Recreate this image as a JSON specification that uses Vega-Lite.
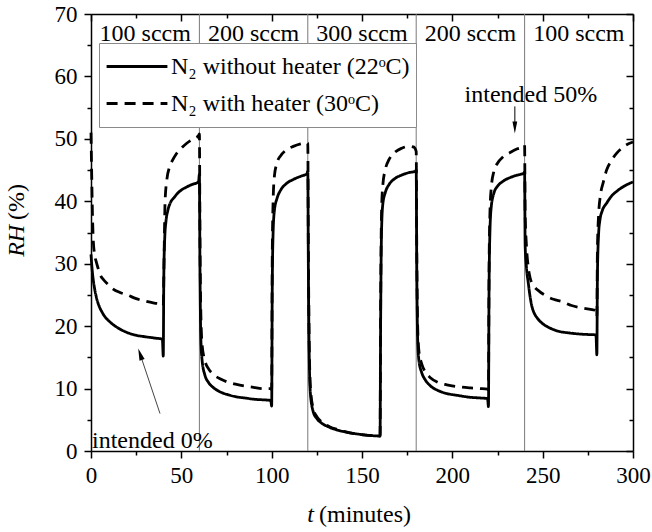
{
  "$schema": "https://vega.github.io/schema/vega-lite/v6.json",
  "width": 542,
  "height": 437,
  "autosize": {"type": "none"},
  "padding": {"left": 91, "top": 14, "right": 19, "bottom": 81},
  "background": "white",
  "data": {"values": [{}]},
  "config": {
    "font": "Liberation Serif",
    "view": {"stroke": null},
    "axis": {"labelFont": "Liberation Serif", "titleFont": "Liberation Serif"},
    "legend": {"labelFont": "Liberation Serif"},
    "text": {"font": "Liberation Serif", "fontSize": 24, "color": "black"}
  },
  "datasets": {
    "rh": [
      {"series": "N₂ without heater (22ᵒC)", "t": 0, "rh": 31.5},
      {"series": "N₂ without heater (22ᵒC)", "t": 0.5, "rh": 29.5},
      {"series": "N₂ without heater (22ᵒC)", "t": 1, "rh": 28},
      {"series": "N₂ without heater (22ᵒC)", "t": 2, "rh": 26},
      {"series": "N₂ without heater (22ᵒC)", "t": 3, "rh": 24.6},
      {"series": "N₂ without heater (22ᵒC)", "t": 4.5, "rh": 23.2},
      {"series": "N₂ without heater (22ᵒC)", "t": 6, "rh": 22.3},
      {"series": "N₂ without heater (22ᵒC)", "t": 8, "rh": 21.4},
      {"series": "N₂ without heater (22ᵒC)", "t": 10, "rh": 20.8},
      {"series": "N₂ without heater (22ᵒC)", "t": 12, "rh": 20.3},
      {"series": "N₂ without heater (22ᵒC)", "t": 15, "rh": 19.7},
      {"series": "N₂ without heater (22ᵒC)", "t": 19, "rh": 19.1},
      {"series": "N₂ without heater (22ᵒC)", "t": 24, "rh": 18.6},
      {"series": "N₂ without heater (22ᵒC)", "t": 30, "rh": 18.3},
      {"series": "N₂ without heater (22ᵒC)", "t": 35, "rh": 18.1},
      {"series": "N₂ without heater (22ᵒC)", "t": 39.5, "rh": 17.9},
      {"series": "N₂ without heater (22ᵒC)", "t": 40, "rh": 15.2},
      {"series": "N₂ without heater (22ᵒC)", "t": 40.3, "rh": 28},
      {"series": "N₂ without heater (22ᵒC)", "t": 40.8, "rh": 34},
      {"series": "N₂ without heater (22ᵒC)", "t": 41.5, "rh": 36.8},
      {"series": "N₂ without heater (22ᵒC)", "t": 42.5, "rh": 38.5},
      {"series": "N₂ without heater (22ᵒC)", "t": 44, "rh": 39.8},
      {"series": "N₂ without heater (22ᵒC)", "t": 46, "rh": 40.6},
      {"series": "N₂ without heater (22ᵒC)", "t": 48, "rh": 41.3},
      {"series": "N₂ without heater (22ᵒC)", "t": 50, "rh": 41.8},
      {"series": "N₂ without heater (22ᵒC)", "t": 53, "rh": 42.3},
      {"series": "N₂ without heater (22ᵒC)", "t": 56, "rh": 42.7},
      {"series": "N₂ without heater (22ᵒC)", "t": 59.5, "rh": 43.1},
      {"series": "N₂ without heater (22ᵒC)", "t": 60, "rh": 44.3},
      {"series": "N₂ without heater (22ᵒC)", "t": 60.3, "rh": 30},
      {"series": "N₂ without heater (22ᵒC)", "t": 60.8, "rh": 18},
      {"series": "N₂ without heater (22ᵒC)", "t": 61.5, "rh": 14.5},
      {"series": "N₂ without heater (22ᵒC)", "t": 63, "rh": 12.2},
      {"series": "N₂ without heater (22ᵒC)", "t": 65, "rh": 11.0},
      {"series": "N₂ without heater (22ᵒC)", "t": 68, "rh": 10.1},
      {"series": "N₂ without heater (22ᵒC)", "t": 72, "rh": 9.4},
      {"series": "N₂ without heater (22ᵒC)", "t": 76, "rh": 9.0},
      {"series": "N₂ without heater (22ᵒC)", "t": 80, "rh": 8.7},
      {"series": "N₂ without heater (22ᵒC)", "t": 85, "rh": 8.5},
      {"series": "N₂ without heater (22ᵒC)", "t": 90, "rh": 8.3},
      {"series": "N₂ without heater (22ᵒC)", "t": 95, "rh": 8.2},
      {"series": "N₂ without heater (22ᵒC)", "t": 99.5, "rh": 8.1},
      {"series": "N₂ without heater (22ᵒC)", "t": 100, "rh": 7.2},
      {"series": "N₂ without heater (22ᵒC)", "t": 100.3, "rh": 25},
      {"series": "N₂ without heater (22ᵒC)", "t": 100.8, "rh": 35},
      {"series": "N₂ without heater (22ᵒC)", "t": 101.5, "rh": 38.5},
      {"series": "N₂ without heater (22ᵒC)", "t": 103, "rh": 40.5},
      {"series": "N₂ without heater (22ᵒC)", "t": 105, "rh": 41.8},
      {"series": "N₂ without heater (22ᵒC)", "t": 108, "rh": 42.8},
      {"series": "N₂ without heater (22ᵒC)", "t": 112, "rh": 43.5},
      {"series": "N₂ without heater (22ᵒC)", "t": 116, "rh": 44.0},
      {"series": "N₂ without heater (22ᵒC)", "t": 119.5, "rh": 44.4},
      {"series": "N₂ without heater (22ᵒC)", "t": 120, "rh": 44.8},
      {"series": "N₂ without heater (22ᵒC)", "t": 120.3, "rh": 30},
      {"series": "N₂ without heater (22ᵒC)", "t": 120.8, "rh": 15},
      {"series": "N₂ without heater (22ᵒC)", "t": 121.5, "rh": 9},
      {"series": "N₂ without heater (22ᵒC)", "t": 123, "rh": 6.3},
      {"series": "N₂ without heater (22ᵒC)", "t": 125, "rh": 5.2},
      {"series": "N₂ without heater (22ᵒC)", "t": 128, "rh": 4.4},
      {"series": "N₂ without heater (22ᵒC)", "t": 132, "rh": 3.8},
      {"series": "N₂ without heater (22ᵒC)", "t": 137, "rh": 3.3},
      {"series": "N₂ without heater (22ᵒC)", "t": 142, "rh": 3.0},
      {"series": "N₂ without heater (22ᵒC)", "t": 148, "rh": 2.7},
      {"series": "N₂ without heater (22ᵒC)", "t": 154, "rh": 2.5},
      {"series": "N₂ without heater (22ᵒC)", "t": 159.5, "rh": 2.4},
      {"series": "N₂ without heater (22ᵒC)", "t": 160, "rh": 2.4},
      {"series": "N₂ without heater (22ᵒC)", "t": 160.3, "rh": 20},
      {"series": "N₂ without heater (22ᵒC)", "t": 160.8, "rh": 35},
      {"series": "N₂ without heater (22ᵒC)", "t": 161.5, "rh": 39.5},
      {"series": "N₂ without heater (22ᵒC)", "t": 163, "rh": 41.5},
      {"series": "N₂ without heater (22ᵒC)", "t": 165, "rh": 42.7},
      {"series": "N₂ without heater (22ᵒC)", "t": 168, "rh": 43.6},
      {"series": "N₂ without heater (22ᵒC)", "t": 172, "rh": 44.2},
      {"series": "N₂ without heater (22ᵒC)", "t": 176, "rh": 44.6},
      {"series": "N₂ without heater (22ᵒC)", "t": 179.5, "rh": 44.8},
      {"series": "N₂ without heater (22ᵒC)", "t": 180, "rh": 45},
      {"series": "N₂ without heater (22ᵒC)", "t": 180.3, "rh": 30},
      {"series": "N₂ without heater (22ᵒC)", "t": 180.8, "rh": 18},
      {"series": "N₂ without heater (22ᵒC)", "t": 181.5, "rh": 14.5},
      {"series": "N₂ without heater (22ᵒC)", "t": 183, "rh": 12.6},
      {"series": "N₂ without heater (22ᵒC)", "t": 185, "rh": 11.4},
      {"series": "N₂ without heater (22ᵒC)", "t": 188, "rh": 10.4},
      {"series": "N₂ without heater (22ᵒC)", "t": 192, "rh": 9.7},
      {"series": "N₂ without heater (22ᵒC)", "t": 197, "rh": 9.2},
      {"series": "N₂ without heater (22ᵒC)", "t": 203, "rh": 8.9},
      {"series": "N₂ without heater (22ᵒC)", "t": 210, "rh": 8.6},
      {"series": "N₂ without heater (22ᵒC)", "t": 215, "rh": 8.5},
      {"series": "N₂ without heater (22ᵒC)", "t": 219.5, "rh": 8.4},
      {"series": "N₂ without heater (22ᵒC)", "t": 220, "rh": 7.1},
      {"series": "N₂ without heater (22ᵒC)", "t": 220.3, "rh": 25},
      {"series": "N₂ without heater (22ᵒC)", "t": 220.8, "rh": 35},
      {"series": "N₂ without heater (22ᵒC)", "t": 221.5, "rh": 39},
      {"series": "N₂ without heater (22ᵒC)", "t": 223, "rh": 41.3},
      {"series": "N₂ without heater (22ᵒC)", "t": 225, "rh": 42.4},
      {"series": "N₂ without heater (22ᵒC)", "t": 228, "rh": 43.2},
      {"series": "N₂ without heater (22ᵒC)", "t": 232, "rh": 43.8},
      {"series": "N₂ without heater (22ᵒC)", "t": 236, "rh": 44.2},
      {"series": "N₂ without heater (22ᵒC)", "t": 239.5, "rh": 44.5},
      {"series": "N₂ without heater (22ᵒC)", "t": 240, "rh": 44.7},
      {"series": "N₂ without heater (22ᵒC)", "t": 240.3, "rh": 33},
      {"series": "N₂ without heater (22ᵒC)", "t": 241, "rh": 29.5},
      {"series": "N₂ without heater (22ᵒC)", "t": 242, "rh": 27},
      {"series": "N₂ without heater (22ᵒC)", "t": 243, "rh": 24.8},
      {"series": "N₂ without heater (22ᵒC)", "t": 244, "rh": 23.2},
      {"series": "N₂ without heater (22ᵒC)", "t": 245, "rh": 22.3},
      {"series": "N₂ without heater (22ᵒC)", "t": 247, "rh": 21.3},
      {"series": "N₂ without heater (22ᵒC)", "t": 250, "rh": 20.4},
      {"series": "N₂ without heater (22ᵒC)", "t": 254, "rh": 19.7},
      {"series": "N₂ without heater (22ᵒC)", "t": 260, "rh": 19.1},
      {"series": "N₂ without heater (22ᵒC)", "t": 265, "rh": 18.9},
      {"series": "N₂ without heater (22ᵒC)", "t": 272, "rh": 18.7},
      {"series": "N₂ without heater (22ᵒC)", "t": 279.5, "rh": 18.6},
      {"series": "N₂ without heater (22ᵒC)", "t": 280, "rh": 15.4},
      {"series": "N₂ without heater (22ᵒC)", "t": 280.3, "rh": 28},
      {"series": "N₂ without heater (22ᵒC)", "t": 281, "rh": 35},
      {"series": "N₂ without heater (22ᵒC)", "t": 281.7, "rh": 37},
      {"series": "N₂ without heater (22ᵒC)", "t": 283, "rh": 38.5},
      {"series": "N₂ without heater (22ᵒC)", "t": 285.4, "rh": 39.7},
      {"series": "N₂ without heater (22ᵒC)", "t": 288, "rh": 40.8},
      {"series": "N₂ without heater (22ᵒC)", "t": 291, "rh": 41.6},
      {"series": "N₂ without heater (22ᵒC)", "t": 295, "rh": 42.4},
      {"series": "N₂ without heater (22ᵒC)", "t": 300, "rh": 43.1},

      {"series": "N₂ with heater (30ᵒC)", "t": 0, "rh": 51},
      {"series": "N₂ with heater (30ᵒC)", "t": 0.4, "rh": 44},
      {"series": "N₂ with heater (30ᵒC)", "t": 0.8, "rh": 38},
      {"series": "N₂ with heater (30ᵒC)", "t": 1.3, "rh": 33.5},
      {"series": "N₂ with heater (30ᵒC)", "t": 2, "rh": 31.5},
      {"series": "N₂ with heater (30ᵒC)", "t": 3, "rh": 30.2},
      {"series": "N₂ with heater (30ᵒC)", "t": 4, "rh": 29.2},
      {"series": "N₂ with heater (30ᵒC)", "t": 5, "rh": 28.3},
      {"series": "N₂ with heater (30ᵒC)", "t": 7, "rh": 27.4},
      {"series": "N₂ with heater (30ᵒC)", "t": 9, "rh": 26.8},
      {"series": "N₂ with heater (30ᵒC)", "t": 12, "rh": 26.0},
      {"series": "N₂ with heater (30ᵒC)", "t": 16, "rh": 25.4},
      {"series": "N₂ with heater (30ᵒC)", "t": 20, "rh": 25.0},
      {"series": "N₂ with heater (30ᵒC)", "t": 25, "rh": 24.4},
      {"series": "N₂ with heater (30ᵒC)", "t": 30, "rh": 24.0},
      {"series": "N₂ with heater (30ᵒC)", "t": 35, "rh": 23.7},
      {"series": "N₂ with heater (30ᵒC)", "t": 39.5, "rh": 23.5},
      {"series": "N₂ with heater (30ᵒC)", "t": 40, "rh": 23.3},
      {"series": "N₂ with heater (30ᵒC)", "t": 40.5, "rh": 32},
      {"series": "N₂ with heater (30ᵒC)", "t": 41, "rh": 40},
      {"series": "N₂ with heater (30ᵒC)", "t": 42, "rh": 43.5},
      {"series": "N₂ with heater (30ᵒC)", "t": 43.5, "rh": 45.5},
      {"series": "N₂ with heater (30ᵒC)", "t": 45, "rh": 46.5},
      {"series": "N₂ with heater (30ᵒC)", "t": 47, "rh": 47.5},
      {"series": "N₂ with heater (30ᵒC)", "t": 50, "rh": 48.5},
      {"series": "N₂ with heater (30ᵒC)", "t": 53, "rh": 49.3},
      {"series": "N₂ with heater (30ᵒC)", "t": 56, "rh": 49.9},
      {"series": "N₂ with heater (30ᵒC)", "t": 59.5, "rh": 50.5},
      {"series": "N₂ with heater (30ᵒC)", "t": 60, "rh": 50.8},
      {"series": "N₂ with heater (30ᵒC)", "t": 60.3, "rh": 35},
      {"series": "N₂ with heater (30ᵒC)", "t": 60.8, "rh": 22},
      {"series": "N₂ with heater (30ᵒC)", "t": 61.5, "rh": 17},
      {"series": "N₂ with heater (30ᵒC)", "t": 63, "rh": 14.5},
      {"series": "N₂ with heater (30ᵒC)", "t": 65, "rh": 13.2},
      {"series": "N₂ with heater (30ᵒC)", "t": 68, "rh": 12.2},
      {"series": "N₂ with heater (30ᵒC)", "t": 72, "rh": 11.5},
      {"series": "N₂ with heater (30ᵒC)", "t": 76, "rh": 11.0},
      {"series": "N₂ with heater (30ᵒC)", "t": 80, "rh": 10.7},
      {"series": "N₂ with heater (30ᵒC)", "t": 85, "rh": 10.4},
      {"series": "N₂ with heater (30ᵒC)", "t": 90, "rh": 10.2},
      {"series": "N₂ with heater (30ᵒC)", "t": 95, "rh": 10.0},
      {"series": "N₂ with heater (30ᵒC)", "t": 99.5, "rh": 10.0},
      {"series": "N₂ with heater (30ᵒC)", "t": 100, "rh": 9.8},
      {"series": "N₂ with heater (30ᵒC)", "t": 100.3, "rh": 30},
      {"series": "N₂ with heater (30ᵒC)", "t": 100.8, "rh": 40},
      {"series": "N₂ with heater (30ᵒC)", "t": 101.5, "rh": 44},
      {"series": "N₂ with heater (30ᵒC)", "t": 103, "rh": 46.2},
      {"series": "N₂ with heater (30ᵒC)", "t": 105, "rh": 47.3},
      {"series": "N₂ with heater (30ᵒC)", "t": 108, "rh": 48.2},
      {"series": "N₂ with heater (30ᵒC)", "t": 112, "rh": 48.8},
      {"series": "N₂ with heater (30ᵒC)", "t": 116, "rh": 49.2},
      {"series": "N₂ with heater (30ᵒC)", "t": 119.5, "rh": 49.4},
      {"series": "N₂ with heater (30ᵒC)", "t": 120, "rh": 49.3},
      {"series": "N₂ with heater (30ᵒC)", "t": 120.3, "rh": 33},
      {"series": "N₂ with heater (30ᵒC)", "t": 120.8, "rh": 17},
      {"series": "N₂ with heater (30ᵒC)", "t": 121.5, "rh": 10},
      {"series": "N₂ with heater (30ᵒC)", "t": 123, "rh": 6.8},
      {"series": "N₂ with heater (30ᵒC)", "t": 125, "rh": 5.5},
      {"series": "N₂ with heater (30ᵒC)", "t": 128, "rh": 4.6},
      {"series": "N₂ with heater (30ᵒC)", "t": 132, "rh": 3.9},
      {"series": "N₂ with heater (30ᵒC)", "t": 137, "rh": 3.4},
      {"series": "N₂ with heater (30ᵒC)", "t": 142, "rh": 3.0},
      {"series": "N₂ with heater (30ᵒC)", "t": 148, "rh": 2.7},
      {"series": "N₂ with heater (30ᵒC)", "t": 154, "rh": 2.5},
      {"series": "N₂ with heater (30ᵒC)", "t": 159.5, "rh": 2.4},
      {"series": "N₂ with heater (30ᵒC)", "t": 160, "rh": 2.4},
      {"series": "N₂ with heater (30ᵒC)", "t": 160.3, "rh": 22},
      {"series": "N₂ with heater (30ᵒC)", "t": 160.8, "rh": 38},
      {"series": "N₂ with heater (30ᵒC)", "t": 161.5, "rh": 42.5},
      {"series": "N₂ with heater (30ᵒC)", "t": 163, "rh": 45.2},
      {"series": "N₂ with heater (30ᵒC)", "t": 165, "rh": 46.7},
      {"series": "N₂ with heater (30ᵒC)", "t": 168, "rh": 47.8},
      {"series": "N₂ with heater (30ᵒC)", "t": 172, "rh": 48.5},
      {"series": "N₂ with heater (30ᵒC)", "t": 176, "rh": 48.8},
      {"series": "N₂ with heater (30ᵒC)", "t": 178.5, "rh": 48.7},
      {"series": "N₂ with heater (30ᵒC)", "t": 180, "rh": 48.0},
      {"series": "N₂ with heater (30ᵒC)", "t": 180.3, "rh": 33},
      {"series": "N₂ with heater (30ᵒC)", "t": 180.8, "rh": 20},
      {"series": "N₂ with heater (30ᵒC)", "t": 181.5, "rh": 16},
      {"series": "N₂ with heater (30ᵒC)", "t": 183, "rh": 14},
      {"series": "N₂ with heater (30ᵒC)", "t": 185, "rh": 12.7},
      {"series": "N₂ with heater (30ᵒC)", "t": 188, "rh": 11.7},
      {"series": "N₂ with heater (30ᵒC)", "t": 192, "rh": 11.0},
      {"series": "N₂ with heater (30ᵒC)", "t": 197, "rh": 10.6},
      {"series": "N₂ with heater (30ᵒC)", "t": 203, "rh": 10.3},
      {"series": "N₂ with heater (30ᵒC)", "t": 210, "rh": 10.1},
      {"series": "N₂ with heater (30ᵒC)", "t": 215, "rh": 10.0},
      {"series": "N₂ with heater (30ᵒC)", "t": 219.5, "rh": 9.9},
      {"series": "N₂ with heater (30ᵒC)", "t": 220, "rh": 9.8},
      {"series": "N₂ with heater (30ᵒC)", "t": 220.3, "rh": 28},
      {"series": "N₂ with heater (30ᵒC)", "t": 220.8, "rh": 38},
      {"series": "N₂ with heater (30ᵒC)", "t": 221.5, "rh": 42},
      {"series": "N₂ with heater (30ᵒC)", "t": 223, "rh": 44.8},
      {"series": "N₂ with heater (30ᵒC)", "t": 225, "rh": 46.1},
      {"series": "N₂ with heater (30ᵒC)", "t": 228, "rh": 47.1},
      {"series": "N₂ with heater (30ᵒC)", "t": 232, "rh": 47.8},
      {"series": "N₂ with heater (30ᵒC)", "t": 236, "rh": 48.4},
      {"series": "N₂ with heater (30ᵒC)", "t": 239.5, "rh": 48.8},
      {"series": "N₂ with heater (30ᵒC)", "t": 240, "rh": 49.0},
      {"series": "N₂ with heater (30ᵒC)", "t": 240.3, "rh": 38},
      {"series": "N₂ with heater (30ᵒC)", "t": 241, "rh": 33},
      {"series": "N₂ with heater (30ᵒC)", "t": 242, "rh": 29.5},
      {"series": "N₂ with heater (30ᵒC)", "t": 243, "rh": 27.8},
      {"series": "N₂ with heater (30ᵒC)", "t": 245, "rh": 26.5},
      {"series": "N₂ with heater (30ᵒC)", "t": 248, "rh": 25.6},
      {"series": "N₂ with heater (30ᵒC)", "t": 251, "rh": 25.0},
      {"series": "N₂ with heater (30ᵒC)", "t": 256, "rh": 24.3},
      {"series": "N₂ with heater (30ᵒC)", "t": 261, "rh": 23.9},
      {"series": "N₂ with heater (30ᵒC)", "t": 266, "rh": 23.3},
      {"series": "N₂ with heater (30ᵒC)", "t": 272, "rh": 22.9},
      {"series": "N₂ with heater (30ᵒC)", "t": 279.5, "rh": 22.5},
      {"series": "N₂ with heater (30ᵒC)", "t": 280, "rh": 21.5},
      {"series": "N₂ with heater (30ᵒC)", "t": 280.3, "rh": 32},
      {"series": "N₂ with heater (30ᵒC)", "t": 281, "rh": 38},
      {"series": "N₂ with heater (30ᵒC)", "t": 282, "rh": 41},
      {"series": "N₂ with heater (30ᵒC)", "t": 283.5, "rh": 43},
      {"series": "N₂ with heater (30ᵒC)", "t": 285.4, "rh": 45},
      {"series": "N₂ with heater (30ᵒC)", "t": 288, "rh": 46.5},
      {"series": "N₂ with heater (30ᵒC)", "t": 291, "rh": 47.7},
      {"series": "N₂ with heater (30ᵒC)", "t": 295, "rh": 48.8},
      {"series": "N₂ with heater (30ᵒC)", "t": 300, "rh": 49.5}
    ],
    "switches": [{"t": 60}, {"t": 120}, {"t": 180}, {"t": 240}],
    "flows": [
      {"t": 30, "flow": "100 sccm"},
      {"t": 90, "flow": "200 sccm"},
      {"t": 150, "flow": "300 sccm"},
      {"t": 210, "flow": "200 sccm"},
      {"t": 270, "flow": "100 sccm"}
    ]
  },
  "resolve": {"axis": {"x": "independent", "y": "independent"}},
  "layer": [
    {
      "data": {"name": "switches"},
      "mark": {"type": "rule", "color": "#7a7a7a", "strokeWidth": 1},
      "encoding": {
        "x": {"field": "t", "type": "quantitative", "scale": {"domain": [0, 300], "nice": false, "zero": false}, "axis": null}
      }
    },
    {
      "data": {"name": "rh"},
      "mark": {"type": "line", "color": "black", "strokeWidth": 2.8, "interpolate": "monotone"},
      "encoding": {
        "x": {
          "field": "t", "type": "quantitative",
          "scale": {"domain": [0, 300], "nice": false, "zero": false},
          "axis": {
            "orient": "bottom", "title": null, "grid": false,
            "values": [0, 25, 50, 75, 100, 125, 150, 175, 200, 225, 250, 275, 300],
            "labelExpr": "datum.value % 50 === 0 ? datum.label : ''",
            "labelFont": "Liberation Serif", "labelFontSize": 23, "labelColor": "black",
            "labelPadding": 6, "labelFlush": false, "labelOverlap": false,
            "domainColor": "black", "domainWidth": 1.5,
            "tickColor": "black", "tickWidth": 1.5,
            "tickSize": {"condition": {"test": "datum.value % 50 === 0", "value": 7}, "value": 4}
          }
        },
        "y": {
          "field": "rh", "type": "quantitative",
          "scale": {"domain": [0, 70], "nice": false, "zero": false},
          "axis": {
            "orient": "left", "title": null, "grid": false,
            "values": [0, 5, 10, 15, 20, 25, 30, 35, 40, 45, 50, 55, 60, 65, 70],
            "labelExpr": "datum.value % 10 === 0 ? datum.label : ''",
            "labelFont": "Liberation Serif", "labelFontSize": 23, "labelColor": "black",
            "labelPadding": 7, "labelFlush": false, "labelOverlap": false,
            "domainColor": "black", "domainWidth": 1.5,
            "tickColor": "black", "tickWidth": 1.5,
            "tickSize": {"condition": {"test": "datum.value % 10 === 0", "value": 7}, "value": 4}
          }
        },
        "strokeDash": {
          "field": "series", "type": "nominal",
          "scale": {"domain": ["N₂ without heater (22ᵒC)", "N₂ with heater (30ᵒC)"], "range": [[1, 0], [11, 7]]},
          "legend": {
            "orient": "none", "legendX": 8, "legendY": 29, "title": null,
            "fillColor": "white", "strokeColor": "#8a8a8a", "padding": 6,
            "clipHeight": 35, "rowPadding": 2,
            "symbolType": "stroke", "symbolSize": 3700, "symbolStrokeColor": "black", "symbolStrokeWidth": 2.8,
            "labelFont": "Liberation Serif", "labelFontSize": 24, "labelColor": "black", "labelOffset": 2, "labelLimit": 400
          }
        }
      }
    },
    {
      "data": {"name": "flows"},
      "mark": {"type": "text", "baseline": "alphabetic", "align": "center", "font": "Liberation Serif", "fontSize": 24},
      "encoding": {
        "x": {
          "field": "t", "type": "quantitative",
          "scale": {"domain": [0, 300], "nice": false, "zero": false},
          "axis": {
            "orient": "top", "title": null, "grid": false, "labels": false,
            "values": [0, 25, 50, 75, 100, 125, 150, 175, 200, 225, 250, 275, 300],
            "domainColor": "black", "domainWidth": 1.5,
            "tickColor": "black", "tickWidth": 1.5,
            "tickSize": {"condition": {"test": "datum.value % 50 === 0", "value": -7}, "value": -4}
          }
        },
        "y": {
          "datum": 65.6, "type": "quantitative",
          "scale": {"domain": [0, 70], "nice": false, "zero": false},
          "axis": {
            "orient": "right", "title": null, "grid": false, "labels": false,
            "values": [0, 5, 10, 15, 20, 25, 30, 35, 40, 45, 50, 55, 60, 65, 70],
            "domainColor": "black", "domainWidth": 1.5,
            "tickColor": "black", "tickWidth": 1.5,
            "tickSize": {"condition": {"test": "datum.value % 10 === 0", "value": -7}, "value": -4}
          }
        },
        "text": {"field": "flow"}
      }
    },
    {
      "mark": {"type": "text", "align": "left", "baseline": "alphabetic", "font": "Liberation Serif", "fontSize": 24, "text": "intended 0%"},
      "encoding": {
        "x": {"datum": 0.55, "type": "quantitative", "axis": null},
        "y": {"datum": 0.45, "type": "quantitative", "axis": null}
      }
    },
    {
      "mark": {"type": "text", "align": "center", "baseline": "alphabetic", "font": "Liberation Serif", "fontSize": 24, "text": "intended 50%"},
      "encoding": {
        "x": {"datum": 243.5, "type": "quantitative", "axis": null},
        "y": {"datum": 55.95, "type": "quantitative", "axis": null}
      }
    },
    {
      "mark": {"type": "rule", "color": "#444", "strokeWidth": 1},
      "encoding": {
        "x": {"datum": 38.2, "type": "quantitative", "axis": null},
        "y": {"datum": 6.0, "type": "quantitative", "axis": null},
        "x2": {"datum": 27.2},
        "y2": {"datum": 15.5}
      }
    },
    {
      "mark": {"type": "point", "shape": "M0,-1L0.45,1L-0.45,1Z", "filled": true, "color": "black", "opacity": 1, "size": 144, "angle": 341.3},
      "encoding": {
        "x": {"datum": 27.2, "type": "quantitative", "axis": null},
        "y": {"datum": 15.5, "type": "quantitative", "axis": null}
      }
    },
    {
      "mark": {"type": "rule", "color": "black", "strokeWidth": 1},
      "encoding": {
        "x": {"datum": 234.6, "type": "quantitative", "axis": null},
        "y": {"datum": 55.2, "type": "quantitative", "axis": null},
        "y2": {"datum": 51.8}
      }
    },
    {
      "mark": {"type": "point", "shape": "M0,-1L0.4,1L-0.4,1Z", "filled": true, "color": "black", "opacity": 1, "size": 144, "angle": 180},
      "encoding": {
        "x": {"datum": 234.6, "type": "quantitative", "axis": null},
        "y": {"datum": 51.8, "type": "quantitative", "axis": null}
      }
    },
    {
      "mark": {"type": "text", "align": "right", "baseline": "alphabetic", "font": "Liberation Serif", "fontSize": 24, "fontStyle": "italic", "text": "t"},
      "encoding": {
        "x": {"datum": 123.4, "type": "quantitative", "axis": null},
        "y": {"datum": -11.4, "type": "quantitative", "axis": null}
      }
    },
    {
      "mark": {"type": "text", "align": "left", "baseline": "alphabetic", "font": "Liberation Serif", "fontSize": 24, "text": "(minutes)"},
      "encoding": {
        "x": {"datum": 126.2, "type": "quantitative", "axis": null},
        "y": {"datum": -11.4, "type": "quantitative", "axis": null}
      }
    },
    {
      "mark": {"type": "text", "align": "left", "baseline": "middle", "angle": 270, "font": "Liberation Serif", "fontSize": 24, "fontStyle": "italic", "text": "RH"},
      "encoding": {
        "x": {"datum": -41, "type": "quantitative", "axis": null},
        "y": {"datum": 31.1, "type": "quantitative", "axis": null}
      }
    },
    {
      "mark": {"type": "text", "align": "left", "baseline": "middle", "angle": 270, "font": "Liberation Serif", "fontSize": 24, "text": "(%)"},
      "encoding": {
        "x": {"datum": -41, "type": "quantitative", "axis": null},
        "y": {"datum": 37.0, "type": "quantitative", "axis": null}
      }
    }
  ]
}
